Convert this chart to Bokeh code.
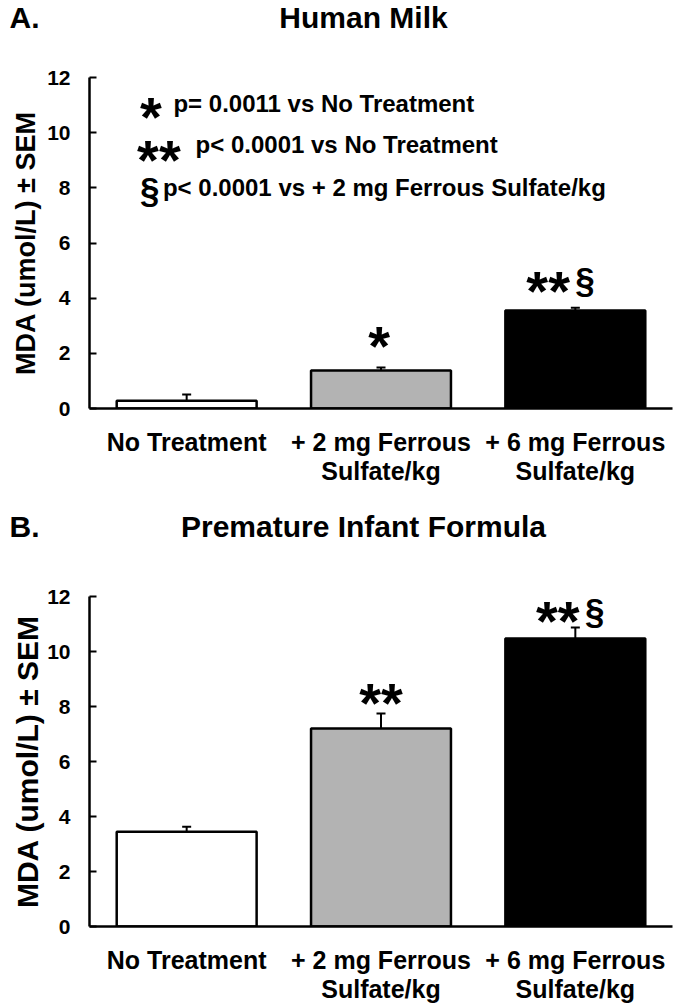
from bokeh.plotting import figure
from bokeh.models import FactorRange, Range1d, FixedTicker, Whisker, TeeHead, ColumnDataSource
from bokeh.layouts import column
from bokeh.embed import file_html
from bokeh.resources import INLINE
from bokeh.core.properties import value

# ---------------- data ----------------
categories = ["No Treatment", "+ 2 mg Ferrous\nSulfate/kg", "+ 6 mg Ferrous\nSulfate/kg"]
bar_colors = ["#ffffff", "#b3b3b3", "#000000"]
milk_mean = [0.28, 1.38, 3.55]
milk_sem = [0.23, 0.11, 0.10]
formula_mean = [3.45, 7.20, 10.47]
formula_sem = [0.18, 0.55, 0.40]
y_ticks = [0, 2, 4, 6, 8, 10, 12]
y_label = "MDA (umol/L) \u00b1 SEM"
panel_letters = ["A.", "B."]
panel_titles = ["Human Milk", "Premature Infant Formula"]

legend_marks = ["*", "**", "\u00a7"]
legend_texts = ["p= 0.0011 vs No Treatment",
                "p< 0.0001 vs No Treatment",
                "p< 0.0001 vs + 2 mg Ferrous Sulfate/kg"]

FONT = "Liberation Sans"
W = 677


def make_header(letter, title, height, ty):
    h = figure(x_range=Range1d(0, W), y_range=Range1d(height, 0), width=W, height=height,
               output_backend="svg", toolbar_location=None,
               x_axis_type=None, y_axis_type=None, frame_align=False,
               min_border_left=0, min_border_right=0, min_border_top=0, min_border_bottom=0)
    h.outline_line_color = None
    h.xgrid.grid_line_color = None
    h.ygrid.grid_line_color = None
    h.text(x=[9], y=[ty], text=[letter], text_font=value(FONT), text_font_style="bold",
           text_font_size="30px", text_baseline="alphabetic", text_align="left",
           text_color="black")
    h.text(x=[363], y=[ty], text=[title], text_font=value(FONT), text_font_style="bold",
           text_font_size="30px", text_baseline="alphabetic", text_align="center",
           text_color="black")
    return h


def make_panel(mean, sem, height, top, bottom, ylab_size, ylab_standoff):
    p = figure(x_range=FactorRange(factors=categories, range_padding=0),
               y_range=Range1d(0, 12), width=W, height=height,
               output_backend="svg", toolbar_location=None,
               min_border_left=89, min_border_right=5,
               min_border_top=top, min_border_bottom=bottom)
    p.outline_line_color = None
    p.xgrid.grid_line_color = None
    p.ygrid.grid_line_color = None

    src = ColumnDataSource(dict(x=categories, top=mean, color=bar_colors,
                                upper=[m + s for m, s in zip(mean, sem)]))
    p.vbar(x="x", top="top", width=0.72, source=src, fill_color="color",
           line_color="black", line_width=2.5)
    p.add_layout(Whisker(source=src, base="x", lower="top", upper="upper",
                         dimension="height", line_color="black", line_width=2,
                         upper_head=TeeHead(size=9, line_width=2, line_color="black"),
                         lower_head=None))

    p.yaxis.ticker = FixedTicker(ticks=y_ticks)
    p.yaxis.major_tick_in = 7
    p.yaxis.major_tick_out = 0
    p.yaxis.minor_tick_line_color = None
    p.yaxis.axis_line_width = 2.5
    p.yaxis.major_tick_line_width = 2
    p.yaxis.major_label_text_font = FONT
    p.yaxis.major_label_text_font_style = "bold"
    p.yaxis.major_label_text_font_size = "21px"
    p.yaxis.major_label_text_color = "black"
    p.yaxis.major_label_standoff = 19
    p.yaxis.axis_label = y_label
    p.yaxis.axis_label_text_font = FONT
    p.yaxis.axis_label_text_font_style = "bold"
    p.yaxis.axis_label_text_font_size = ylab_size
    p.yaxis.axis_label_text_color = "black"
    p.yaxis.axis_label_standoff = ylab_standoff

    p.xaxis.major_tick_line_color = None
    p.xaxis.minor_tick_line_color = None
    p.xaxis.axis_line_width = 2.5
    p.xaxis.major_label_text_font = FONT
    p.xaxis.major_label_text_font_style = "bold"
    p.xaxis.major_label_text_font_size = "25px"
    p.xaxis.major_label_text_color = "black"
    p.xaxis.major_label_text_line_height = 1.05
    p.xaxis.major_label_standoff = 13
    return p


def star_text(p, xs, ys, texts, size, align="center"):
    p.text(x=xs, y=ys, text=texts, text_font=value(FONT), text_font_style="bold",
           text_font_size=size, text_baseline="alphabetic", text_align=align,
           text_color="black")


ha = make_header(panel_letters[0], panel_titles[0], 58, 17)
pa = make_panel(milk_mean, milk_sem, 450, 19, 100, "27px", 3)
hb = make_header(panel_letters[1], panel_titles[1], 70, 18)
pb = make_panel(formula_mean, formula_sem, 427, 18, 79, "30px", 0)

# legend of significance marks (panel A)
star_text(pa, [0.26, 0.245], [10.57, 9.01], legend_marks[:2], "56px", "left")
star_text(pa, [0.26], [7.95], legend_marks[2:], "35px", "left")
star_text(pa, [0.432, 0.546, 0.378], [11.06, 9.57, 8.01], legend_texts, "24px", "left")

# significance marks above bars
star_text(pa, [1.49, 2.36], [2.30, 4.26], ["*", "**"], "56px")
star_text(pa, [2.50], [4.69], ["\u00a7"], "35px", "left")
star_text(pb, [1.5, 2.41], [8.13, 11.11], ["**", "**"], "56px")
star_text(pb, [2.55], [11.5], ["\u00a7"], "35px", "left")

layout = column(ha, pa, hb, pb, spacing=0)
open("out.html", "w").write(file_html(layout, INLINE))
